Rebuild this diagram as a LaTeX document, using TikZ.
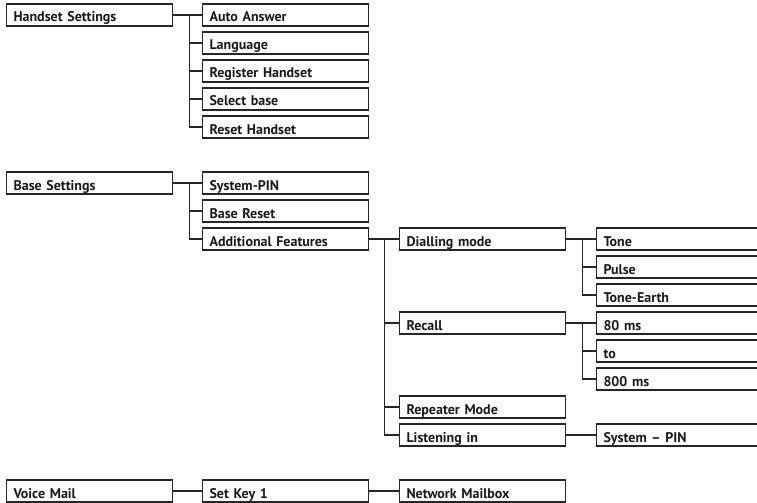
\documentclass[tikz,border=0pt]{standalone}
\usepackage{fontspec}
\setmainfont{PT Sans}
\begin{document}
\begin{tikzpicture}[x=0.75pt,y=-0.75pt,
    item/.style={rectangle, draw=black!85, line width=0.8pt, anchor=west,
      text height=13.5pt, text depth=3pt, inner xsep=5.25pt, inner ysep=0pt,
      text width=#1, align=left, text=black!90,
      font=\bfseries\fontsize{10.5}{12}\selectfont},
    item/.default=114pt,
    link/.style={draw=black!85, line width=0.8pt}]

  \clip (0,0) rectangle (757,503);

  % Handset menu
  \node[item] (hs) at (6,15) {Handset Settings};
  \node[item] (autoans) at (202,15) {Auto Answer};
  \node[item] (lang) at (202,43) {Language};
  \node[item] (reghs) at (202,71) {Register Handset};
  \node[item] (selbase) at (202,99) {Select base};
  \node[item] (reseths) at (202,127) {Reset Handset};

  % Base menu
  \node[item] (bs) at (6,183) {Base Settings};
  \node[item] (syspin) at (202,183) {System-PIN};
  \node[item] (basereset) at (202,211) {Base Reset};
  \node[item] (addfeat) at (202,239) {Additional Features};
  \node[item] (dialmode) at (399,239) {Dialling mode};
  \node[item=150pt] (tone) at (596,239) {Tone};
  \node[item=150pt] (pulse) at (596,267) {Pulse};
  \node[item=150pt] (toneearth) at (596,295) {Tone-Earth};
  \node[item] (recall) at (399,323) {Recall};
  \node[item=150pt] (ms80) at (596,323) {80 ms};
  \node[item=150pt] (upto) at (596,351) {to};
  \node[item=150pt] (ms800) at (596,379) {800 ms};
  \node[item] (repeater) at (399,407) {Repeater Mode};
  \node[item] (listen) at (399,435) {Listening in};
  \node[item=150pt] (listenpin) at (596,435) {System -- PIN};

  % Voice mail menu
  \node[item] (vm) at (6,491) {Voice Mail};
  \node[item] (setkey) at (202,491) {Set Key 1};
  \node[item] (mailbox) at (399,491) {Network Mailbox};

  % Edges
  \foreach \c in {autoans,lang,reghs,selbase,reseths}
    \draw[link] (hs.east) -- ++(16,0) |- (\c.west);
  \foreach \c in {syspin,basereset,addfeat}
    \draw[link] (bs.east) -- ++(16,0) |- (\c.west);
  \foreach \c in {dialmode,recall,repeater,listen}
    \draw[link] (addfeat.east) -- ++(15,0) |- (\c.west);
  \foreach \c in {tone,pulse,toneearth}
    \draw[link] (dialmode.east) -- ++(16,0) |- (\c.west);
  \foreach \c in {ms80,upto,ms800}
    \draw[link] (recall.east) -- ++(16,0) |- (\c.west);
  \draw[link] (listen) -- (listenpin);
  \draw[link] (vm) -- (setkey);
  \draw[link] (setkey) -- (mailbox);
\end{tikzpicture}
\end{document}
